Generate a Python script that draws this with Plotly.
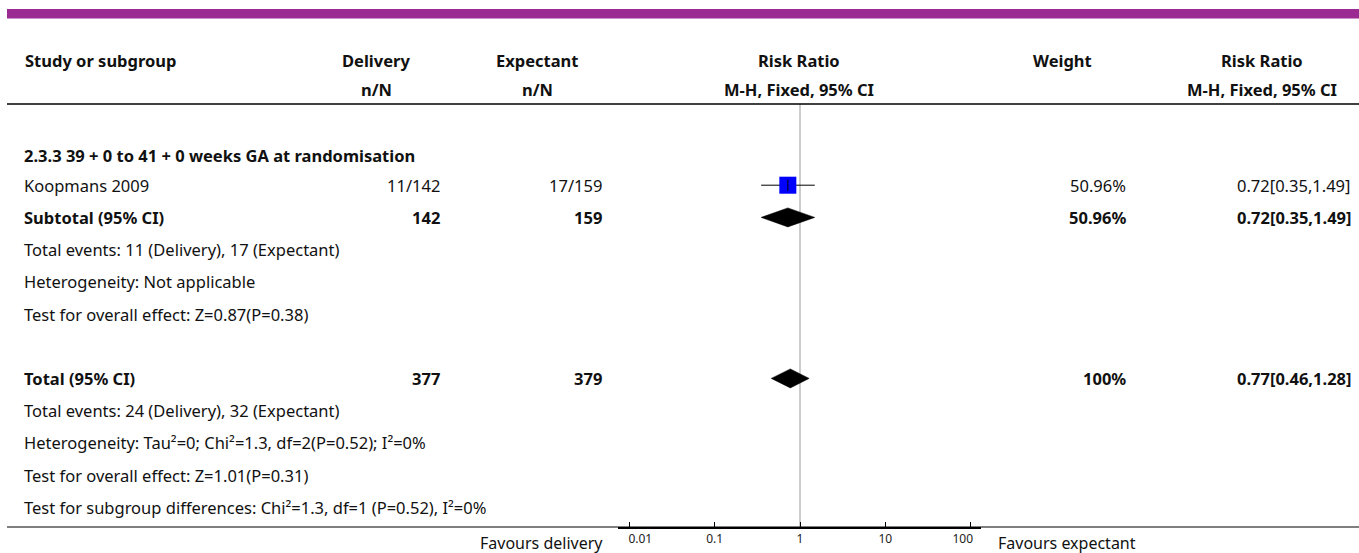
import math
import plotly.graph_objects as go

# ---------------- data ----------------
row_labels = [
    "2.3.3 39 + 0 to 41 + 0 weeks GA at randomisation",
    "Koopmans 2009",
    "Subtotal (95% CI)",
    "Total events: 11 (Delivery), 17 (Expectant)",
    "Heterogeneity: Not applicable",
    "Test for overall effect: Z=0.87(P=0.38)",
    "",
    "Total (95% CI)",
    "Total events: 24 (Delivery), 32 (Expectant)",
    "Heterogeneity: Tau²=0; Chi²=1.3, df=2(P=0.52); I²=0%",
    "Test for overall effect: Z=1.01(P=0.31)",
    "Test for subgroup differences: Chi²=1.3, df=1 (P=0.52), I²=0%",
]
row_bold = [True, False, True, False, False, False, False, True, False, False, False, False]
delivery_col = ["", "11/142", "142", "", "", "", "", "377", "", "", "", ""]
expectant_col = ["", "17/159", "159", "", "", "", "", "379", "", "", "", ""]
weight_col = ["", "50.96%", "50.96%", "", "", "", "", "100%", "", "", "", ""]
rr_col = ["", "0.72[0.35,1.49]", "0.72[0.35,1.49]", "", "", "", "", "0.77[0.46,1.28]", "", "", "", ""]

# study estimates: (row, est, lo, hi)
study_rows = [1]
study_est = [0.72]
study_lo = [0.35]
study_hi = [1.49]

# pooled diamonds
diamond_rows = [2, 7]
diamond_est = [0.72, 0.77]
diamond_lo = [0.35, 0.46]
diamond_hi = [1.49, 1.28]

tick_vals = [0.01, 0.1, 1, 10, 100]
tick_text = ["0.01", "0.1", "1", "10", "100"]

headers_1 = ["Study or subgroup", "Delivery", "Expectant", "Risk Ratio", "Weight", "Risk Ratio"]
headers_2 = ["", "n/N", "n/N", "M-H, Fixed, 95% CI", "", "M-H, Fixed, 95% CI"]

# ---------------- layout geometry ----------------
W, H = 1359, 553
FONT = "Noto Sans"
FS = 16.5
ROW0_PX = 153.0
PITCH = 32.2
AXIS_PX = 527.0
X_LEFT_PX, X_RIGHT_PX, ONE_PX, DECADE_PX = 618.0, 981.0, 800.0, 85.3
NB = "\u00a0"

def px_to_row(p):
    return (p - ROW0_PX) / PITCH

def px_x(p):
    return p / W

def px_y(p):
    return 1 - p / H

y_top = px_to_row(0)
y_bot = px_to_row(AXIS_PX)

fig = go.Figure()

# reference line at 1
fig.add_trace(go.Scatter(x=[1, 1], y=[px_to_row(104), y_bot], mode="lines",
                         line=dict(color="#9a9a9a", width=1), hoverinfo="skip", showlegend=False))

# diamonds
half_h = 9.5 / PITCH
for r, e, lo, hi in zip(diamond_rows, diamond_est, diamond_lo, diamond_hi):
    fig.add_trace(go.Scatter(x=[lo, e, hi, e, lo], y=[r, r - half_h, r, r + half_h, r],
                             mode="lines", fill="toself", fillcolor="black",
                             line=dict(color="black", width=0.5), hoverinfo="skip", showlegend=False))

# study CI lines and squares
for r, e, lo, hi in zip(study_rows, study_est, study_lo, study_hi):
    fig.add_trace(go.Scatter(x=[lo, hi], y=[r, r], mode="lines",
                             line=dict(color="black", width=1), hoverinfo="skip", showlegend=False))
    fig.add_trace(go.Scatter(x=[e], y=[r], mode="markers",
                             marker=dict(symbol="square", size=17, color="#0000ff", line=dict(width=0)),
                             hoverinfo="skip", showlegend=False))
    fig.add_trace(go.Scatter(x=[e], y=[r], mode="markers",
                             marker=dict(symbol="line-ns", size=8, line=dict(color="black", width=1)),
                             hoverinfo="skip", showlegend=False))

ann = []

def add_text(text, xp, yrow, anchor, bold=False, size=FS, yref="y"):
    t = f"<b>{text}</b>" if bold else text
    ann.append(dict(text=t, x=px_x(xp), xref="paper", y=yrow, yref=yref,
                    xanchor=anchor, yanchor="middle", showarrow=False,
                    font=dict(family=FONT, size=size, color="#111111")))

# headers
hdr_x = [23, 376, 537, 799, 1062, 1262]
hdr_anchor = ["left", "center", "center", "center", "center", "center"]
for t, xp, a in zip(headers_1, hdr_x, hdr_anchor):
    add_text(t, xp, px_y(61), a, bold=True, yref="paper")
for t, xp, a in zip(headers_2, hdr_x, hdr_anchor):
    if t:
        add_text(t, xp, px_y(89), a, bold=True, yref="paper")

# rows
for i, lab in enumerate(row_labels):
    yr = i + (2.0 / PITCH if i == 0 else 0)
    if lab:
        add_text(lab, 22, yr, "left", bold=row_bold[i])
    if delivery_col[i]:
        add_text(delivery_col[i], 442, yr, "right", bold=row_bold[i])
    if expectant_col[i]:
        add_text(expectant_col[i], 604, yr, "right", bold=row_bold[i])
    if weight_col[i]:
        add_text(weight_col[i], 1128, yr, "right", bold=row_bold[i])
    if rr_col[i]:
        add_text(rr_col[i], 1353, yr, "right", bold=row_bold[i])

# favours labels
add_text("Favours delivery", 605, px_y(543), "right", size=16, yref="paper")
add_text("Favours expectant", 996, px_y(543), "left", size=16, yref="paper")

shapes = [
    dict(type="rect", xref="paper", yref="paper", x0=px_x(7), x1=1, y0=px_y(18.5), y1=px_y(9),
         fillcolor="#9B2A93", line=dict(width=0), layer="below"),
    dict(type="line", xref="paper", yref="paper", x0=px_x(7), x1=1, y0=px_y(104), y1=px_y(104),
         line=dict(color="black", width=1.5)),
    dict(type="line", xref="paper", yref="paper", x0=px_x(7), x1=1, y0=px_y(AXIS_PX), y1=px_y(AXIS_PX),
         line=dict(color="black", width=1)),
]

x_lo = (X_LEFT_PX - ONE_PX) / DECADE_PX
x_hi = (X_RIGHT_PX - ONE_PX) / DECADE_PX

# end tick labels nudged inward (as in the reference)
tick_text_disp = [NB * 7 + tick_text[0]] + tick_text[1:-1] + [tick_text[-1] + NB * 5]

fig.update_layout(
    width=W, height=H,
    margin=dict(l=0, r=0, t=0, b=0, autoexpand=False),
    paper_bgcolor="white", plot_bgcolor="rgba(0,0,0,0)",
    showlegend=False,
    annotations=ann, shapes=shapes,
    xaxis=dict(type="log", range=[x_lo, x_hi], domain=[X_LEFT_PX / W, X_RIGHT_PX / W],
               tickvals=tick_vals, ticktext=tick_text_disp, showgrid=False, zeroline=False,
               showline=True, linecolor="black", linewidth=2,
               ticks="inside", ticklen=5, tickwidth=1, tickcolor="black",
               tickfont=dict(family=FONT, size=12, color="#222222"), fixedrange=True),
    yaxis=dict(range=[y_bot, y_top], domain=[1 - AXIS_PX / H, 1], visible=False,
               showgrid=False, zeroline=False, fixedrange=True),
)

fig.write_html("out.html", config={"displayModeBar": False, "responsive": False},
               post_script="document.documentElement.style.margin='0px';document.documentElement.style.overflow='hidden';document.body.style.margin='0px';document.body.style.padding='0px';document.body.style.overflow='hidden';")
